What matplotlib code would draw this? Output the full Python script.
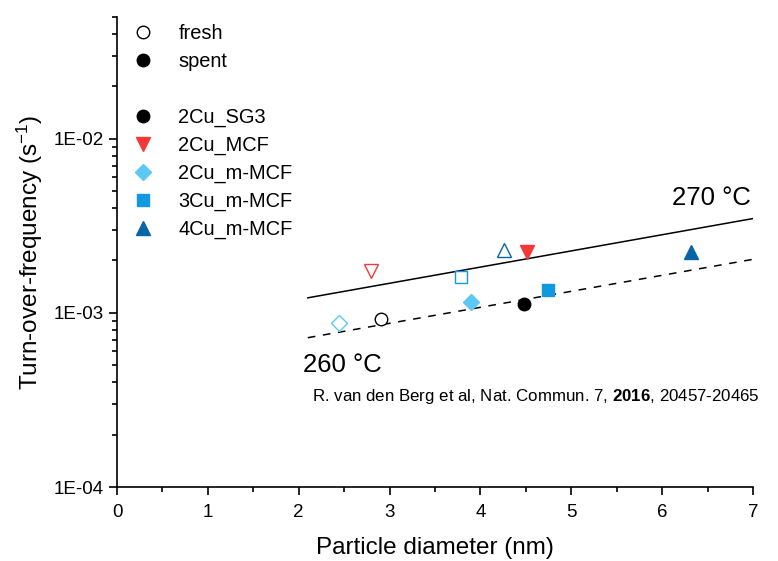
import numpy as np
import matplotlib
matplotlib.use('Agg')
import matplotlib.pyplot as plt
from matplotlib.lines import Line2D
from matplotlib.ticker import FixedLocator, LogLocator, FuncFormatter, MultipleLocator

plt.rcParams['font.family'] = ['Liberation Sans', 'DejaVu Sans']
plt.rcParams['mathtext.fontset'] = 'custom'
plt.rcParams['mathtext.rm'] = 'Liberation Sans'
plt.rcParams['mathtext.it'] = 'Liberation Sans:italic'
plt.rcParams['mathtext.bf'] = 'Liberation Sans:bold'

# catalysts, colours and markers
samples = ['2Cu_SG3', '2Cu_MCF', '2Cu_m-MCF', '3Cu_m-MCF', '4Cu_m-MCF']
colors = ['#000000', '#F53838', '#5EC8F5', '#1098E0', '#0866A6']
markers = ['o', 'v', 'D', 's', '^']
sizes = [9, 10, 8, 8, 10]

# particle diameter (nm) and TOF (s-1), fresh (open) and spent (filled)
d_fresh = [2.90, 2.80, 2.44, 3.79, 4.26]
tof_fresh = [9.2e-4, 1.75e-3, 8.8e-4, 1.60e-3, 2.30e-3]
d_spent = [4.48, 4.51, 3.90, 4.74, 6.32]
tof_spent = [1.12e-3, 2.25e-3, 1.16e-3, 1.36e-3, 2.25e-3]

# trend lines
fit_x = [2.1, 7.0]
fit_270 = [1.22e-3, 3.48e-3]
fit_260 = [7.2e-4, 2.03e-3]

fig = plt.figure(figsize=(7.78, 5.61), dpi=100)
ax = fig.add_axes([0.1504, 0.1319, 0.8175, 0.8378])

ax.plot(fit_x, fit_270, color='black', lw=1.1, zorder=1)
ax.plot(fit_x, fit_260, color='black', lw=1.1, ls=(0, (5, 5)), zorder=1)

for i in range(len(samples)):
    ax.plot(d_fresh[i], tof_fresh[i], marker=markers[i], ms=sizes[i], mfc='white',
            mec=colors[i], mew=1.0, ls='none', zorder=3)
    ax.plot(d_spent[i], tof_spent[i], marker=markers[i], ms=sizes[i], mfc=colors[i],
            mec=colors[i], mew=1.0, ls='none', zorder=3)

ax.set_yscale('log')
ax.set_xlim(0, 7)
ax.set_ylim(1e-4, 5e-2)
ax.yaxis.set_major_locator(FixedLocator([1e-4, 1e-3, 1e-2]))
ax.yaxis.set_minor_locator(LogLocator(base=10, subs=np.arange(2, 10)))
ax.yaxis.set_major_formatter(FuncFormatter(lambda v, p: '1E-%02d' % round(-np.log10(v))))
ax.yaxis.set_minor_formatter(FuncFormatter(lambda v, p: ''))
ax.xaxis.set_major_locator(MultipleLocator(1))
ax.xaxis.set_minor_locator(MultipleLocator(0.5))

for s in ['top', 'right']:
    ax.spines[s].set_visible(False)
for s in ['left', 'bottom']:
    ax.spines[s].set_linewidth(1.2)
ax.tick_params(which='major', direction='out', length=6, width=1.2, labelsize=13.5)
ax.tick_params(axis='x', which='major', pad=6)
ax.tick_params(which='minor', direction='out', length=3.5, width=1.2)

ax.set_xlabel('Particle diameter (nm)', fontsize=17.5, labelpad=12)
ax.set_ylabel('Turn-over-frequency (s$^{-1}$)', fontsize=17.5, labelpad=6)

ax.text(6.98, 3.9e-3, '270 \u00b0C', fontsize=18.5, ha='right', va='bottom')
ax.text(2.05, 5.0e-4, '260 \u00b0C', fontsize=18.5, ha='left', va='center')
ax.text(2.15, 3.3e-4, r'R. van den Berg et al, Nat. Commun. 7, $\mathbf{2016}$, 20457-20465',
        fontsize=12.2, ha='left', va='center')

handles = [Line2D([], [], marker='o', ms=9, mfc='white', mec='black', ls='none'),
           Line2D([], [], marker='o', ms=9, mfc='black', mec='black', ls='none'),
           Line2D([], [], ls='none')]
labels = ['fresh', 'spent', '']
for i in range(len(samples)):
    handles.append(Line2D([], [], marker=markers[i], ms=sizes[i], mfc=colors[i],
                          mec=colors[i], ls='none'))
    labels.append(samples[i])
ax.legend(handles, labels, loc='upper left', bbox_to_anchor=(-0.012, 1.014), frameon=False,
          fontsize=14.4, handletextpad=0.75, labelspacing=0.44, borderaxespad=0.3)

fig.savefig('out.png', dpi=100)
